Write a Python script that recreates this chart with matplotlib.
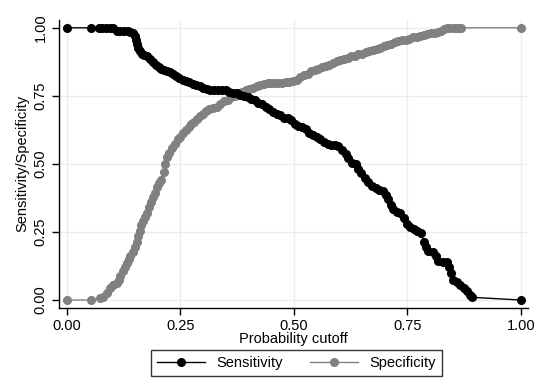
import numpy as np
import matplotlib.pyplot as plt

# Probability cutoff and sensitivity
sens_cut = [0.00, 0.054, 0.07, 0.078, 0.086, 0.094, 0.102, 0.11, 0.118, 0.126, 0.134, 0.14,
            0.146, 0.150, 0.152, 0.154, 0.156, 0.160, 0.165, 0.170, 0.176, 0.183, 0.190,
            0.196, 0.202, 0.208, 0.214, 0.22, 0.227, 0.234, 0.241, 0.248, 0.256, 0.263,
            0.270, 0.277, 0.285, 0.293, 0.30, 0.308, 0.316, 0.325, 0.333, 0.342, 0.350,
            0.358, 0.366, 0.374, 0.382, 0.39, 0.398, 0.406, 0.414, 0.422, 0.430, 0.438,
            0.446, 0.454, 0.462, 0.470, 0.478, 0.486, 0.494, 0.502, 0.51, 0.518, 0.526,
            0.534, 0.542, 0.55, 0.558, 0.566, 0.574, 0.582, 0.59, 0.598, 0.606, 0.614,
            0.62, 0.628, 0.636, 0.642, 0.648, 0.656, 0.664, 0.672, 0.68, 0.688, 0.696,
            0.702, 0.708, 0.714, 0.718, 0.726, 0.734, 0.742, 0.749, 0.756, 0.764, 0.772,
            0.780, 0.786, 0.790, 0.796, 0.806, 0.812, 0.818, 0.828, 0.837, 0.842, 0.846,
            0.850, 0.858, 0.866, 0.874, 0.882, 0.888, 0.892, 1.00]
sensitivity = [1.00, 1.00, 1.00, 1.00, 1.00, 1.00, 1.00, 0.99, 0.99, 0.99, 0.99, 0.985,
               0.98, 0.97, 0.955, 0.94, 0.925, 0.915, 0.905, 0.90, 0.895, 0.885, 0.875,
               0.865, 0.857, 0.85, 0.845, 0.842, 0.838, 0.83, 0.822, 0.815, 0.81, 0.805,
               0.80, 0.795, 0.79, 0.785, 0.78, 0.775, 0.77, 0.77, 0.77, 0.77, 0.77,
               0.765, 0.76, 0.76, 0.755, 0.75, 0.745, 0.74, 0.735, 0.725, 0.72, 0.71,
               0.70, 0.69, 0.685, 0.68, 0.67, 0.67, 0.66, 0.645, 0.64, 0.635, 0.63,
               0.615, 0.605, 0.60, 0.59, 0.58, 0.575, 0.57, 0.57, 0.565, 0.55, 0.535,
               0.52, 0.505, 0.50, 0.48, 0.465, 0.45, 0.435, 0.42, 0.41, 0.405, 0.40,
               0.385, 0.37, 0.35, 0.335, 0.325, 0.318, 0.30, 0.28, 0.27, 0.26, 0.255,
               0.245, 0.215, 0.195, 0.18, 0.175, 0.16, 0.145, 0.14, 0.14, 0.12, 0.10,
               0.075, 0.065, 0.055, 0.045, 0.035, 0.02, 0.01, 0.00]

# Probability cutoff and specificity
spec_cut = [0.00, 0.054, 0.073, 0.08, 0.088, 0.094, 0.102, 0.110, 0.114, 0.118, 0.124,
            0.128, 0.132, 0.136, 0.140, 0.145, 0.150, 0.154, 0.157, 0.160, 0.164, 0.168,
            0.172, 0.176, 0.181, 0.186, 0.190, 0.194, 0.198, 0.203, 0.208, 0.213, 0.217,
            0.221, 0.226, 0.232, 0.238, 0.244, 0.25, 0.256, 0.262, 0.268, 0.274, 0.28,
            0.287, 0.294, 0.30, 0.306, 0.314, 0.322, 0.33, 0.338, 0.346, 0.354, 0.362,
            0.37, 0.378, 0.386, 0.394, 0.402, 0.41, 0.418, 0.426, 0.434, 0.442, 0.45,
            0.458, 0.466, 0.474, 0.482, 0.49, 0.498, 0.506, 0.514, 0.522, 0.53, 0.538,
            0.546, 0.554, 0.562, 0.57, 0.578, 0.586, 0.594, 0.602, 0.61, 0.618, 0.626,
            0.634, 0.642, 0.65, 0.658, 0.666, 0.674, 0.682, 0.69, 0.698, 0.706, 0.714,
            0.722, 0.73, 0.738, 0.746, 0.754, 0.762, 0.77, 0.778, 0.786, 0.794, 0.802,
            0.81, 0.818, 0.824, 0.83, 0.836, 0.842, 0.85, 0.856, 0.862, 0.868, 1.00]
specificity = [0.00, 0.00, 0.007, 0.012, 0.025, 0.045, 0.055, 0.062, 0.075, 0.09, 0.105,
               0.12, 0.135, 0.15, 0.16, 0.175, 0.195, 0.215, 0.235, 0.255, 0.275, 0.29,
               0.305, 0.32, 0.34, 0.36, 0.38, 0.395, 0.415, 0.43, 0.44, 0.47, 0.50,
               0.525, 0.54, 0.56, 0.575, 0.59, 0.60, 0.615, 0.625, 0.635, 0.645, 0.655,
               0.665, 0.675, 0.685, 0.695, 0.70, 0.705, 0.71, 0.72, 0.73, 0.735, 0.745,
               0.75, 0.76, 0.765, 0.77, 0.775, 0.78, 0.787, 0.79, 0.795, 0.797, 0.797,
               0.797, 0.797, 0.797, 0.80, 0.802, 0.806, 0.81, 0.818, 0.825, 0.832, 0.84,
               0.845, 0.85, 0.855, 0.858, 0.865, 0.872, 0.877, 0.88, 0.885, 0.89, 0.895,
               0.897, 0.902, 0.905, 0.91, 0.915, 0.92, 0.922, 0.927, 0.932, 0.937, 0.942,
               0.947, 0.952, 0.955, 0.957, 0.96, 0.965, 0.967, 0.97, 0.975, 0.977, 0.98,
               0.98, 0.985, 0.99, 0.995, 1.0, 1.0, 1.0, 1.0, 1.0, 1.0, 1.0]

ticks = [0.00, 0.25, 0.50, 0.75, 1.00]
tick_labels = ['0.00', '0.25', '0.50', '0.75', '1.00']

plt.rcParams['font.family'] = ['Liberation Sans', 'DejaVu Sans']

fig = plt.figure(figsize=(5.5, 3.83), dpi=100)
ax = fig.add_axes([0.107, 0.196, 0.853, 0.752])

grid_col = '#e6f0f1'
for t in ticks:
    ax.axhline(t, color=grid_col, lw=1, zorder=0)
    ax.axvline(t, color=grid_col, lw=1, zorder=0)

ax.plot(sens_cut, sensitivity, color='black', lw=1, marker='o', markersize=5.5,
        label='Sensitivity', zorder=3)
ax.plot(spec_cut, specificity, color='#808080', lw=1, marker='o', markersize=5.5,
        label='Specificity', zorder=2)

ax.set_xlim(-0.0176, 1.0154)
ax.set_ylim(-0.029, 1.029)
ax.set_xticks(ticks)
ax.set_xticklabels(tick_labels, fontsize=10.5)
ax.set_yticks(ticks)
ax.set_yticklabels(tick_labels, fontsize=10.5, rotation=90, va='center')
ax.tick_params(direction='out', length=5, width=1, colors='black', pad=3)

for side in ['top', 'right']:
    ax.spines[side].set_visible(False)
for side in ['left', 'bottom']:
    ax.spines[side].set_linewidth(1)

ax.set_xlabel('Probability cutoff', fontsize=10.5, labelpad=-1)
ax.set_ylabel('Sensitivity/Specificity', fontsize=10.5, labelpad=3)

leg = fig.legend(loc='lower center', bbox_to_anchor=(0.539, 0.018), ncol=2,
                 fontsize=10.5, frameon=True, fancybox=False, edgecolor='black',
                 handlelength=3.3, handletextpad=0.8, columnspacing=1.8,
                 borderpad=0.4, borderaxespad=0)
leg.get_frame().set_linewidth(1)

fig.savefig('out.png', dpi=100)
